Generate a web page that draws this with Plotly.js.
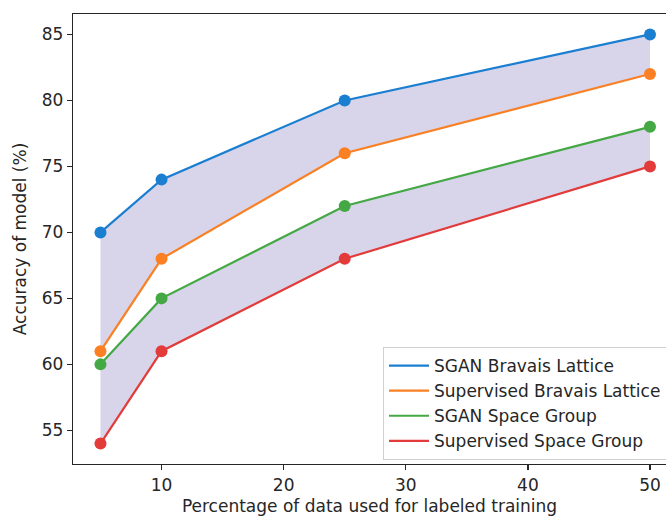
<!DOCTYPE html>
<html>
<head>
<meta charset="utf-8">
<script src="https://cdn.plot.ly/plotly-3.0.1.min.js"></script>
<style>html,body{margin:0;padding:0;background:#fff;}#chart{width:666px;height:516px;}</style>
</head>
<body>
<div id="chart"></div>
<script>
const xPct = [5, 10, 25, 50];
const sganBravais = [70, 74, 80, 85];
const supBravais = [61, 68, 76, 82];
const sganSpace = [60, 65, 72, 78];
const supSpace = [54, 61, 68, 75];
const seriesNames = ['SGAN Bravais Lattice', 'Supervised Bravais Lattice', 'SGAN Space Group', 'Supervised Space Group'];
const seriesColors = ['#1b7fd1', '#fb7f23', '#44a844', '#e33a3a'];
const seriesData = [sganBravais, supBravais, sganSpace, supSpace];
const xTicks = [10, 20, 30, 40, 50];
const yTicks = [55, 60, 65, 70, 75, 80, 85];
const fillColor = 'rgb(216,212,234)';

const traces = [];
[[supBravais, sganBravais], [supSpace, sganSpace]].forEach(([lo, hi]) => {
  traces.push({x: xPct, y: lo, mode: 'lines', line: {width: 0}, showlegend: false, hoverinfo: 'skip'});
  traces.push({x: xPct, y: hi, mode: 'lines', line: {width: 0.8, color: 'rgb(200,194,226)'}, fill: 'tonexty', fillcolor: fillColor, showlegend: false, hoverinfo: 'skip'});
});
seriesData.forEach((ys, i) => {
  traces.push({x: xPct, y: ys, mode: 'lines', name: seriesNames[i], legendgroup: 'g' + i,
    line: {color: seriesColors[i], width: 2.2}});
});
seriesData.forEach((ys, i) => {
  traces.push({x: xPct, y: ys, mode: 'markers', showlegend: false, legendgroup: 'g' + i,
    marker: {color: seriesColors[i], size: 12}});
});

const FS = 17;
const fontC = {family: 'DejaVu Sans', size: FS, color: '#262626'};
const axisCommon = {
  showgrid: false, zeroline: false, showline: true, linecolor: '#262626', linewidth: 1.3,
  ticks: 'outside', ticklen: 5, tickwidth: 1.3, tickcolor: '#262626',
  tickfont: fontC
};

const layout = {
  width: 666, height: 516,
  margin: {l: 73, r: 0, t: 14, b: 52, autoexpand: false},
  paper_bgcolor: '#fff', plot_bgcolor: '#fff',
  font: fontC,
  xaxis: Object.assign({}, axisCommon, {
    range: [2.75, 51.31], tickvals: xTicks, ticktext: xTicks.map(String), mirror: true,
    title: {text: 'Percentage of data used for labeled training', font: fontC, standoff: 12}
  }),
  yaxis: Object.assign({}, axisCommon, {
    range: [52.45, 86.55], tickvals: yTicks, ticktext: yTicks.map(String), mirror: false,
    title: {text: 'Accuracy of model (%)', font: fontC, standoff: 10}
  }),
  legend: {
    x: 0.5228, y: 0.2600, xanchor: 'left', yanchor: 'top',
    bgcolor: 'rgba(255,255,255,0.85)', bordercolor: '#d0d0d0', borderwidth: 1,
    font: fontC,
    traceorder: 'grouped', tracegroupgap: 0, itemwidth: 40
  },
  showlegend: true
};

Plotly.newPlot('chart', traces, layout, {displayModeBar: false, staticPlot: true});
</script>
</body>
</html>
